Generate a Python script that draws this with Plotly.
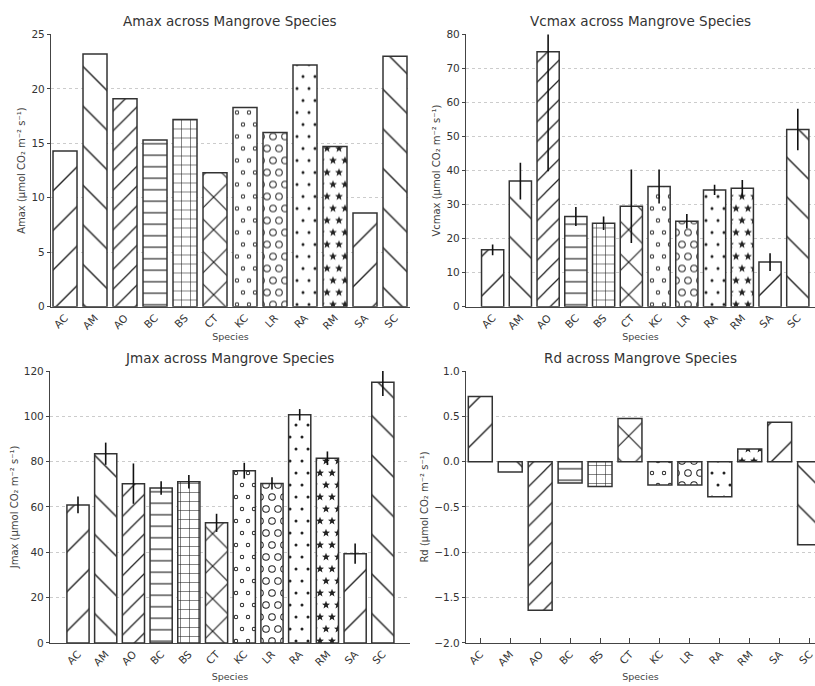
import math
import plotly.graph_objects as go

species = ["AC", "AM", "AO", "BC", "BS", "CT", "KC", "LR", "RA", "RM", "SA", "SC"]
amax = [14.3, 23.2, 19.1, 15.3, 17.2, 12.3, 18.3, 16.0, 22.2, 14.7, 8.6, 23.0]
vcmax = [16.7, 36.9, 74.9, 26.5, 24.5, 29.5, 35.3, 25.1, 34.3, 34.8, 13.1, 52.1]
vcmax_err = [1.6, 5.4, 35.1, 2.8, 2.0, 10.8, 5.0, 2.1, 1.5, 2.4, 2.6, 6.1]
jmax = [60.9, 83.5, 70.3, 68.4, 71.1, 53.0, 76.0, 70.4, 100.7, 81.5, 39.4, 115.0]
jmax_err = [3.7, 4.9, 8.9, 3.0, 3.0, 4.0, 3.5, 2.7, 2.5, 3.0, 4.5, 6.0]
rd = [0.72, -0.115, -1.64, -0.235, -0.275, 0.477, -0.257, -0.257, -0.387, 0.14, 0.434, -0.918]
hatches = ["/", "\\", "//", "-", "+", "x", "o", "O", ".", "*", "/", "\\"]

FONT = "DejaVu Sans"
INK = "#222222"
W, H = 815, 686


def circle(cx, cy, r, sweep=1):
    return (f"M{cx - r:.2f},{cy:.2f}a{r:.2f},{r:.2f} 0 1,{sweep} {2 * r:.2f},0"
            f"a{r:.2f},{r:.2f} 0 1,{sweep} {-2 * r:.2f},0Z")


def ring(cx, cy, r_out, r_in):
    return circle(cx, cy, r_out, 1) + circle(cx, cy, r_in, 0)


def star(cx, cy, R, r):
    pts = []
    for k in range(10):
        ang = -math.pi / 2 + k * math.pi / 5
        rad = R if k % 2 == 0 else r
        pts.append((cx + rad * math.cos(ang), cy + rad * math.sin(ang)))
    return "M" + "L".join(f"{x:.2f},{y:.2f}" for x, y in pts) + "Z"


TILE = 24
GRID = [(6, 6), (18, 6), (0, 18), (12, 18), (24, 18)]

custom_paths = {
    "o": "".join(ring(x, y, 2.2, 1.3) for x, y in GRID),
    "O": "".join(ring(x, y, 3.8, 2.8) for x, y in GRID),
    ".": "".join(circle(x, y, 1.5) for x, y in GRID),
    "*": "".join(star(x, y, 4.2, 1.8) for x, y in GRID),
}

simple = {
    "/": dict(shape="/", size=28, solidity=0.05),
    "\\": dict(shape="\\", size=28, solidity=0.05),
    "//": dict(shape="/", size=14, solidity=0.09),
    "-": dict(shape="-", size=11.5, solidity=0.1),
    "+": dict(shape="+", size=9, solidity=0.12),
    "x": dict(shape="x", size=23, solidity=0.1),
}


def make_pattern(h):
    base = dict(fgcolor=INK, bgcolor="white", fillmode="overlay", fgopacity=1)
    if h in simple:
        return go.bar.marker.Pattern(**base, **simple[h])
    try:
        return go.bar.marker.Pattern(**base, path=custom_paths[h], size=TILE, solidity=0.5)
    except Exception:
        fallback = {"o": 0.15, "O": 0.3, ".": 0.1, "*": 0.4}
        return go.bar.marker.Pattern(**base, shape=".", size=12, solidity=fallback[h])


def px_x(p):
    return p / W


def px_y(p):
    return (H - p) / H


panels = [
    dict(vals=amax, err=None, title="Amax across Mangrove Species",
         ytitle="Amax (µmol CO₂ m⁻² s⁻¹)", yrange=[0, 25], dtick=5, fmt="d",
         xdom=[px_x(51), px_x(410)], ydom=[px_y(306), px_y(29)], xrange=[-0.467, 11.5],
         xticks=False, standoff=2),
    dict(vals=vcmax, err=vcmax_err, title="Vcmax across Mangrove Species",
         ytitle="Vcmax (µmol CO₂ m⁻² s⁻¹)", yrange=[0, 80], dtick=10, fmt="d",
         xdom=[px_x(466), 1.0], ydom=[px_y(306), px_y(29)], xrange=[-0.96, 11.62],
         xticks=False, standoff=2),
    dict(vals=jmax, err=jmax_err, title="Jmax across Mangrove Species",
         ytitle="Jmax (µmol CO₂ m⁻² s⁻¹)", yrange=[0, 120], dtick=20, fmt="d",
         xdom=[px_x(50), px_x(410)], ydom=[px_y(648.3), px_y(371.5)], xrange=[-1.01, 11.98],
         xticks=False, standoff=6),
    dict(vals=rd, err=None, title="Rd across Mangrove Species",
         ytitle="Rd (µmol CO₂ m⁻² s⁻¹)", yrange=[-2.0, 1.0], dtick=0.5, fmt=".1f",
         xdom=[px_x(466), 1.0], ydom=[px_y(648.3), px_y(371.5)], xrange=[-0.477, 11.18],
         xticks=True, standoff=6),
]

fig = go.Figure()
layout = dict(
    width=W, height=H, margin=dict(l=0, r=0, t=0, b=0),
    paper_bgcolor="white", plot_bgcolor="white",
    showlegend=False, barmode="overlay",
    font=dict(family=FONT, color="#333333", size=11),
    annotations=[],
)

for i, p in enumerate(panels):
    n = "" if i == 0 else str(i + 1)
    xa, ya = "x" + n, "y" + n
    for j, sp in enumerate(species):
        err = None
        if p["err"] is not None:
            err = dict(type="data", array=[p["err"][j]], visible=True,
                       color="#111111", thickness=1.6, width=0)
        fig.add_trace(go.Bar(
            x=[sp], y=[p["vals"][j]], width=0.8, xaxis=xa, yaxis=ya,
            marker=dict(color="white", line=dict(color="#333333", width=1.5),
                        pattern=make_pattern(hatches[j])),
            error_y=err, hoverinfo="skip",
        ))
    layout["xaxis" + n] = dict(
        domain=p["xdom"], anchor=ya, type="category", categoryorder="array",
        categoryarray=species, range=p["xrange"], tickangle=-45,
        showline=True, linecolor="#444444", linewidth=1.3, showgrid=False,
        ticks="inside" if p["xticks"] else "", ticklen=5, tickcolor="#444444",
        tickfont=dict(size=10.5, color="#333333"),
        title=dict(text="Species", font=dict(size=9.5, color="#444444"), standoff=p["standoff"]),
        zeroline=False,
    )
    layout["yaxis" + n] = dict(
        domain=p["ydom"], anchor=xa, range=p["yrange"], dtick=p["dtick"],
        tickformat=p["fmt"], showline=True, linecolor="#444444", linewidth=1.3,
        ticks="outside", ticklen=3, tickcolor="#444444",
        showgrid=True, gridcolor="#cccccc", griddash="dot", gridwidth=1,
        zeroline=False, tickfont=dict(size=10.5, color="#333333"),
        title=dict(text=p["ytitle"], font=dict(size=10, color="#444444"), standoff=3),
    )
    layout["annotations"].append(dict(
        text=p["title"], xref="paper", yref="paper",
        x=(p["xdom"][0] + p["xdom"][1]) / 2, y=p["ydom"][1], yshift=3,
        xanchor="center", yanchor="bottom", showarrow=False,
        font=dict(size=13.5, color="#333333", family=FONT),
    ))

fig.update_layout(**layout)
fig.write_html("out.html")
